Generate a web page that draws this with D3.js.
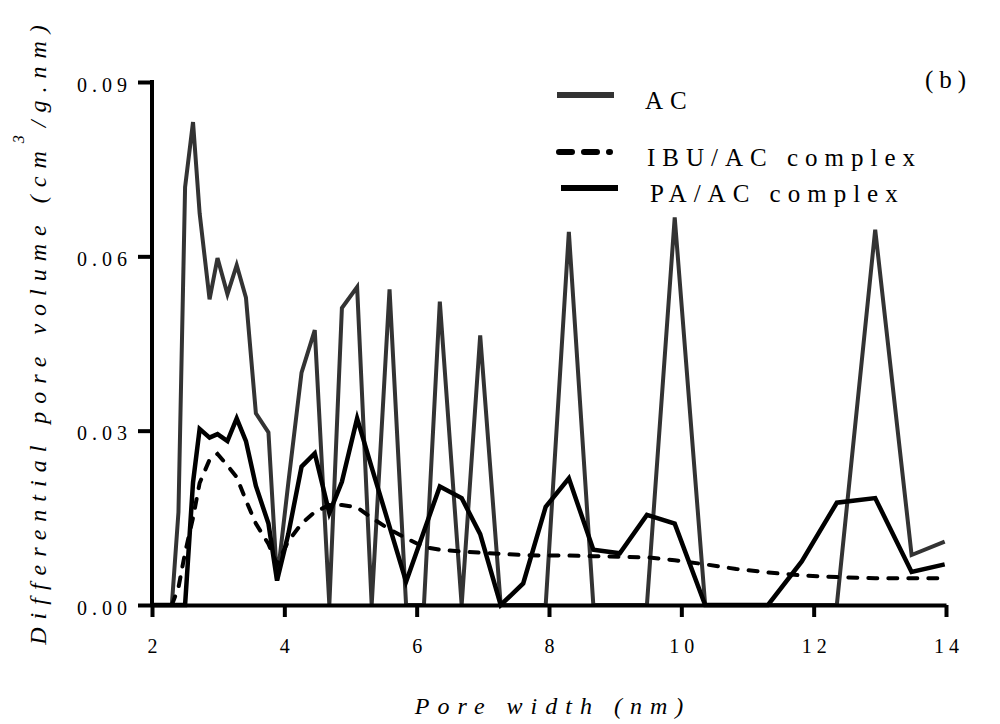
<!DOCTYPE html>
<html>
<head>
<meta charset="utf-8">
<script src="https://cdn.jsdelivr.net/npm/d3@7"></script>
<style>
  body { margin: 0; background: #fff; }
  text { font-family: "Liberation Serif", serif; fill: #000; }
</style>
</head>
<body>
<div id="pore-chart"></div>
<script>
// pore width grid (nm) shared by the three curves
var poreWidth = [2.00, 2.30, 2.40, 2.50, 2.62, 2.72, 2.87, 2.99, 3.14, 3.28, 3.42, 3.57, 3.76, 3.89,
  4.06, 4.26, 4.46, 4.68, 4.87, 5.10, 5.32, 5.59, 5.84, 6.11, 6.35, 6.68, 6.96, 7.27, 7.61, 7.95,
  8.30, 8.67, 9.07, 9.48, 9.90, 10.36, 10.83, 11.31, 11.82, 12.35, 12.93, 13.48, 13.98];

var acVolume = [0, 0, 0.0160, 0.0719, 0.0831, 0.0674, 0.0526, 0.0597, 0.0535, 0.0585, 0.0529, 0.0330, 0.0297, 0.0042,
  0.0210, 0.0400, 0.0473, 0, 0.0511, 0.0547, 0, 0.0543, 0, 0, 0.0522, 0, 0.0464, 0, 0, 0,
  0.0642, 0, 0, 0, 0.0667, 0, 0, 0, 0, 0, 0.0646, 0.0086, 0.0109];

var ibuVolume = [0, 0, 0.0030, 0.0090, 0.0150, 0.0210, 0.0250, 0.0260, 0.0240, 0.0220, 0.0180, 0.0140, 0.0105, 0.0070,
  0.0110, 0.0140, 0.0160, 0.0172, 0.0172, 0.0168, 0.0150, 0.0130, 0.0115, 0.0100, 0.0095, 0.0092, 0.0090, 0.0088, 0.0086, 0.0085,
  0.0085, 0.0084, 0.0083, 0.0082, 0.0077, 0.0070, 0.0062, 0.0056, 0.0051, 0.0048, 0.0046, 0.0046, 0.0046];

var paVolume = [0, 0, 0, 0, 0.0211, 0.0303, 0.0288, 0.0294, 0.0282, 0.0321, 0.0282, 0.0205, 0.0140, 0.0042,
  0.0122, 0.0238, 0.0261, 0.0158, 0.0212, 0.0321, 0.0237, 0.0135, 0.0040, 0.0127, 0.0204, 0.0184, 0.0122, 0, 0.0037, 0.0169,
  0.0218, 0.0095, 0.0089, 0.0155, 0.0140, 0, 0, 0, 0.0075, 0.0176, 0.0184, 0.0057, 0.0070];

var xTicks = [2, 4, 6, 8, 10, 12, 14];
var yTicks = [0, 0.03, 0.06, 0.09];
var seriesNames = ["AC", "IBU/AC complex", "PA/AC complex"];

var width = 1000, height = 724;
var margin = {top: 82, right: 54, bottom: 119, left: 152};

var svg = d3.select("#pore-chart")
  .append("svg")
  .attr("width", width)
  .attr("height", height);

var x = d3.scaleLinear()
  .domain([2, 14])
  .range([margin.left, width - margin.right]);
var y = d3.scaleLinear()
  .domain([0, 0.09])
  .range([height - margin.bottom, margin.top]);

var xAxis = g => g
  .attr("transform", `translate(0,${height - margin.bottom})`)
  .call(d3.axisBottom(x).tickValues(xTicks).tickSize(12).tickSizeOuter(0).tickPadding(22))
  .call(g => g.select(".domain").attr("stroke-width", 4))
  .call(g => g.selectAll(".tick line").attr("stroke-width", 4))
  .call(g => g.selectAll(".tick text")
    .attr("font-family", "Liberation Serif")
    .attr("font-size", 20)
    .attr("letter-spacing", "5px")
    .attr("dx", "2.5px"));

var yAxis = g => g
  .attr("transform", `translate(${margin.left},0)`)
  .call(d3.axisLeft(y).tickValues(yTicks).tickFormat(d3.format(".2f")).tickSize(14).tickSizeOuter(0).tickPadding(6))
  .call(g => g.select(".domain").attr("stroke-width", 4).attr("d", `M0,${y(0)}V${y(0.09) - 2}`))
  .call(g => g.selectAll(".tick line").attr("stroke-width", 4))
  .call(g => g.selectAll(".tick text")
    .attr("font-family", "Liberation Serif")
    .attr("font-size", 20)
    .attr("letter-spacing", "5px")
    .attr("dy", "0.45em"));

var line = d3.line()
  .x((d, i) => x(poreWidth[i]))
  .y(d => y(d));

svg.append("path")
  .datum(acVolume)
  .attr("fill", "none")
  .attr("stroke", "#333")
  .attr("stroke-width", 4)
  .attr("d", line);

svg.append("path")
  .datum(ibuVolume)
  .attr("fill", "none")
  .attr("stroke", "#000")
  .attr("stroke-width", 4)
  .attr("stroke-linecap", "round")
  .attr("stroke-dasharray", "9,11")
  .attr("d", line);

svg.append("path")
  .datum(paVolume)
  .attr("fill", "none")
  .attr("stroke", "#000")
  .attr("stroke-width", 4.5)
  .attr("d", line);

svg.append("g").call(xAxis);
svg.append("g").call(yAxis);

// axis titles
svg.append("text")
  .attr("x", 553)
  .attr("y", 714)
  .attr("text-anchor", "middle")
  .attr("font-style", "italic")
  .attr("font-size", 24)
  .attr("letter-spacing", "8px")
  .text("Pore width (nm)");

var yTitle = svg.append("text")
  .attr("transform", "translate(46,331) rotate(-90)")
  .attr("text-anchor", "middle")
  .attr("font-style", "italic")
  .attr("font-size", 24)
  .attr("letter-spacing", "8px");
yTitle.append("tspan").text("Differential pore volume (cm");
yTitle.append("tspan").attr("dy", -22).attr("font-size", 16).text("3");
yTitle.append("tspan").attr("dy", 22).text("/g.nm)");

// legend
var legend = svg.append("g");
var legendRows = [
  {name: seriesNames[0], y: 95, x1: 557, x2: 614, color: "#333", dash: null, tx: 645, ty: 109},
  {name: seriesNames[1], y: 152, x1: 559, x2: 610, color: "#000", dash: "13,12", tx: 647, ty: 166},
  {name: seriesNames[2], y: 188, x1: 561, x2: 618, color: "#000", dash: null, tx: 650, ty: 202}
];
legendRows.forEach(function(r) {
  legend.append("line")
    .attr("x1", r.x1).attr("x2", r.x2)
    .attr("y1", r.y).attr("y2", r.y)
    .attr("stroke", r.color)
    .attr("stroke-width", 6)
    .attr("stroke-linecap", r.dash ? "round" : "butt")
    .attr("stroke-dasharray", r.dash);
  legend.append("text")
    .attr("x", r.tx)
    .attr("y", r.ty)
    .attr("font-size", 25)
    .attr("letter-spacing", "7px")
    .text(r.name);
});

svg.append("text")
  .attr("x", 925)
  .attr("y", 88)
  .attr("font-size", 25)
  .attr("letter-spacing", "6px")
  .text("(b)");
</script>
</body>
</html>
